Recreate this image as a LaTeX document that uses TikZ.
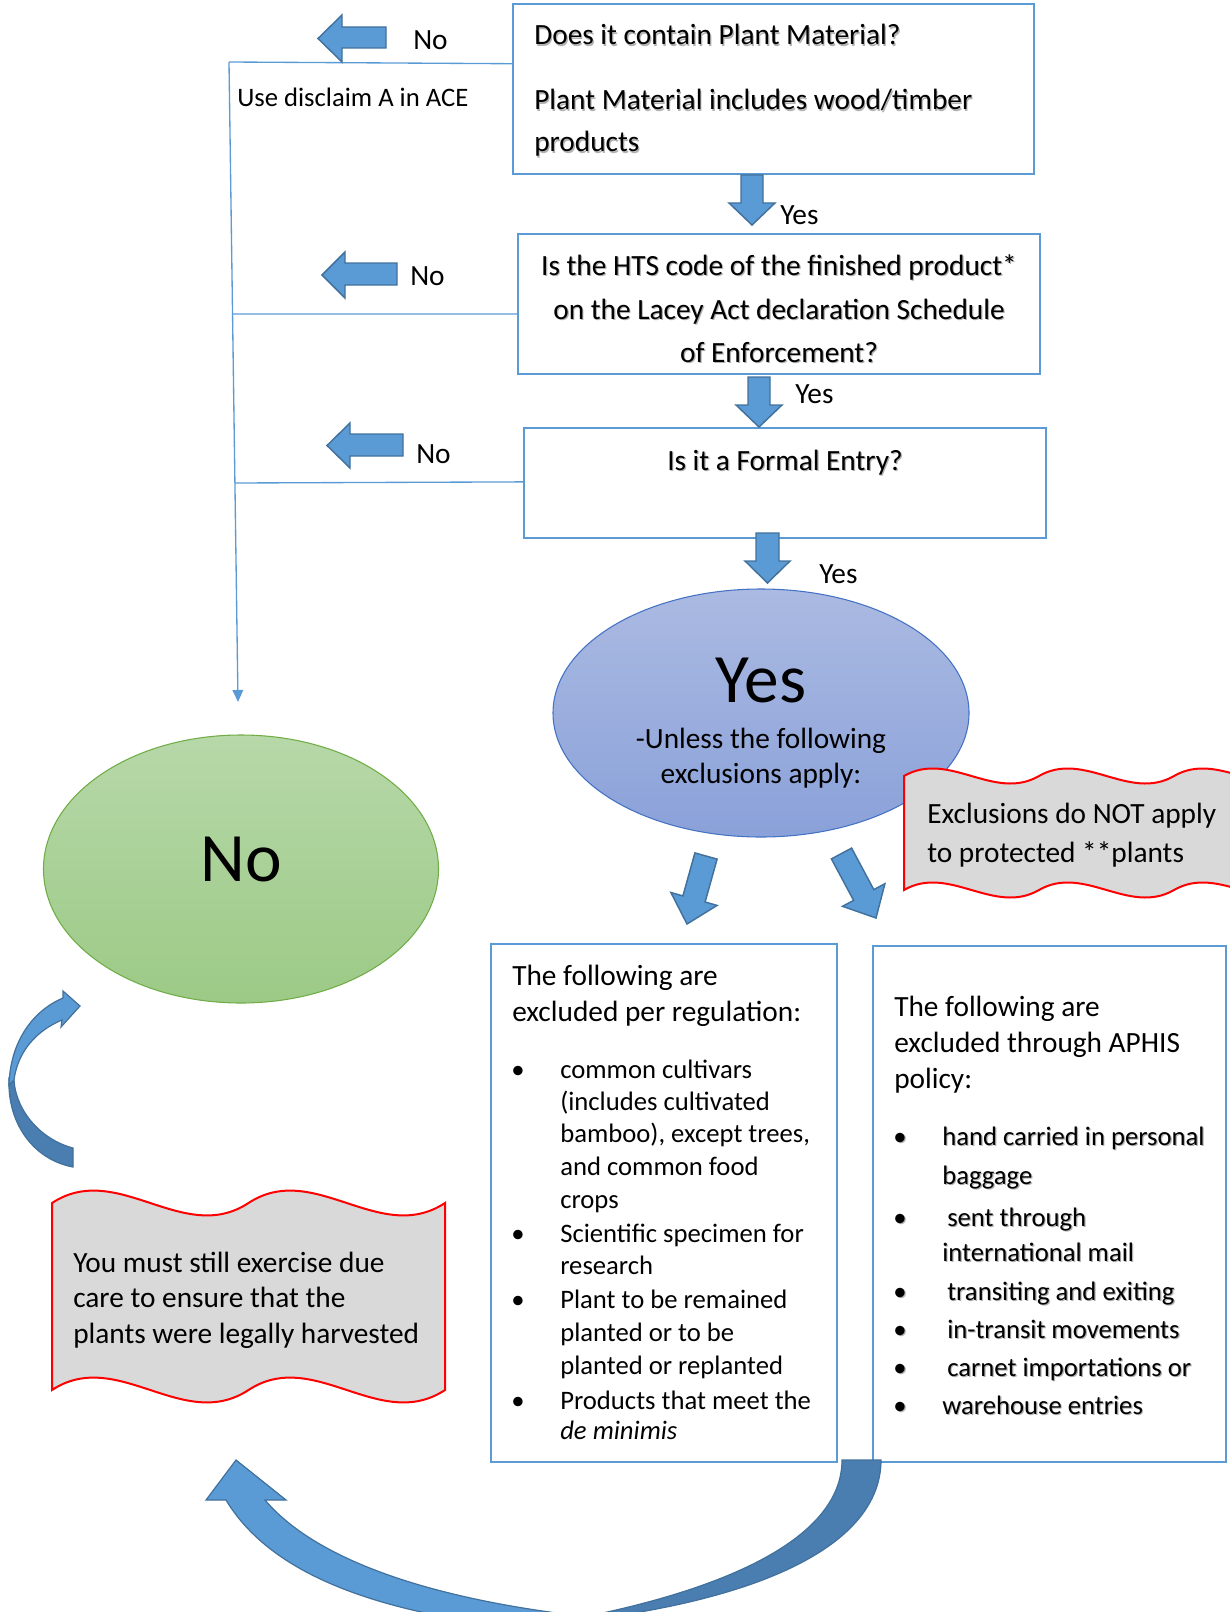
\documentclass[tikz,border=0pt]{standalone}
\usepackage{fontspec}
\setmainfont{Carlito}
\usetikzlibrary{arrows.meta,shapes.geometric,calc}
\definecolor{bl}{HTML}{5B9BD5}
\definecolor{bld}{HTML}{41719C}
\definecolor{bldark}{HTML}{4A7DB0}
\definecolor{yesT}{HTML}{ABBAE2}
\definecolor{yesB}{HTML}{8AA1D9}
\definecolor{yesE}{HTML}{4472C4}
\definecolor{noT}{HTML}{B7D8A9}
\definecolor{noB}{HTML}{9CCA86}
\definecolor{noE}{HTML}{70AD47}
\definecolor{wavefill}{HTML}{D9D9D9}
\definecolor{wavered}{HTML}{FF0000}
\tikzset{
 box/.style={draw=bl, line width=1.5pt, fill=white, inner sep=0pt},
 ln/.style={draw=bl, line width=1pt},
 barrow/.style={fill=bl, draw=bld, line width=1.1pt, line join=miter},
 carrow/.style={fill=bl, draw=bld, line width=0.9pt},
 carrowd/.style={fill=bldark, draw=bld, line width=0.9pt},
 wave/.style={fill=wavefill, draw=wavered, line width=1.5pt},
 txt/.style={font=\fontsize{22pt}{26pt}\selectfont, inner sep=0pt, anchor=base west},
 stxt/.style={font=\fontsize{20pt}{24pt}\selectfont, inner sep=0pt, anchor=base west},
 bigtxt/.style={font=\fontsize{52pt}{60pt}\selectfont, inner sep=0pt, anchor=base},
}
\newcommand{\shnode}[5][txt]{%
  \node[#1,anchor=#3,text=black!30,xshift=0.9pt,yshift=-0.9pt] (#2s) at (#4) {#5};
  \node[#1,anchor=#3] (#2) at (#4) {#5};}
\begin{document}
\begin{tikzpicture}[x=0.75pt,y=-0.75pt]
\useasboundingbox (0,0) rectangle (1230,1612);
\clip (0,0) rectangle (1230,1612);

% ---------- question boxes
\node[box, minimum width=390.75pt, minimum height=127.5pt] (b1) at (773.5,89) {};
\node[box, minimum width=391.5pt, minimum height=105pt] (b2) at (779,304) {};
\node[box, minimum width=391.5pt, minimum height=82.5pt] (b3) at (785,483) {};
\node[box, minimum width=259.5pt, minimum height=388.5pt] (b4) at (664,1203) {};
\node[box, minimum width=264.75pt, minimum height=387pt] (b5) at (1049.5,1204) {};

% ---------- ellipses
\node[ellipse, draw=yesE, line width=0.8pt, top color=yesT, bottom color=yesB,
      minimum width=312pt, minimum height=186pt, inner sep=0pt] (ey) at (761,713) {};
\node[ellipse, draw=noE, line width=0.8pt, top color=noT, bottom color=noB,
      minimum width=296.25pt, minimum height=201pt, inner sep=0pt] (en) at (241,869) {};

% ---------- "No" connector lines
\coordinate (j1) at (229,62);
\coordinate (j2) at (232.5,314);
\coordinate (j3) at (235,483);
\coordinate (jend) at (238,702);
\coordinate (w1) at ($(b1.north west)!0.353!(b1.south west)$);
\coordinate (w2) at ($(b2.north west)!0.571!(b2.south west)$);
\coordinate (w3) at ($(b3.north west)!0.49!(b3.south west)$);
\draw[ln] (w1) -- (j1);
\draw[ln] (w2) -- (j2);
\draw[ln] (w3) -- (j3);
\draw[ln, -{Triangle[length=9pt,width=8pt]}, bl] (j1) -- (jend);

% ---------- left block arrows
\draw[barrow] (386,27) -- (342,27) -- (342,15) -- (318,38.5) -- (342,62) -- (342,48) -- (386,48) -- cycle;
\draw[barrow] (397,263) -- (345,263) -- (345,252) -- (322,275) -- (345,298) -- (345,285) -- (397,285) -- cycle;
\draw[barrow] (403,434) -- (350,434) -- (350,423) -- (327,445.5) -- (350,468) -- (350,456) -- (403,456) -- cycle;

% ---------- down block arrows
\draw[barrow] (741,175) -- (763,175) -- (763,203) -- (775,203) -- (752,225) -- (729,203) -- (741,203) -- cycle;
\draw[barrow] (748,377) -- (770,377) -- (770,405) -- (782,405) -- (759,427) -- (736,405) -- (748,405) -- cycle;
\draw[barrow] (756,533) -- (779,533) -- (779,561) -- (790,561) -- (767.5,583) -- (745,561) -- (756,561) -- cycle;

% ---------- slanted arrows under the Yes ellipse
\draw[barrow] (694.9,852.9) -- (717.1,859.1) -- (705.1,902.0) -- (717.1,905.4) -- (687,924) -- (670.9,892.5) -- (682.9,895.9) -- cycle;
\draw[barrow] (831.4,858.9) -- (851.6,848.1) -- (873.8,889.6) -- (884.9,883.7) -- (876,918) -- (842.5,906.3) -- (853.6,900.4) -- cycle;

% ---------- wave callouts
\draw[wave] (904,776) .. controls (949,750) and (994,802) .. (1039,776)
  .. controls (1084,750) and (1129,802) .. (1174,776)
  .. controls (1219,750) and (1264,802) .. (1309,776) -- (1309,890)
  .. controls (1264,916) and (1219,864) .. (1174,890)
  .. controls (1129,916) and (1084,864) .. (1039,890)
  .. controls (994,916) and (949,864) .. (904,890) -- cycle;
\draw[wave] (52,1203) .. controls (117.5,1160) and (183,1246) .. (248.5,1203)
  .. controls (314,1160) and (379.5,1246) .. (445,1203) -- (445,1390)
  .. controls (379.5,1433) and (314,1347) .. (248.5,1390)
  .. controls (183,1433) and (117.5,1347) .. (52,1390) -- cycle;

% ---------- curved arrows
\draw[carrowd] (9,1078) .. controls (7,1125) and (35,1160) .. (73,1167) -- (73,1148)
  .. controls (42,1140) and (16,1112) .. (14,1080) -- cycle;
\draw[carrow] (63,991) -- (80,1006) -- (61,1027) -- (62,1020)
  .. controls (38,1030) and (18,1050) .. (14,1080) -- (9,1085)
  .. controls (10,1045) and (30,1012) .. (63,998) -- cycle;

\draw[carrowd] (842,1460) -- (881,1460) .. controls (881,1545) and (760,1605) .. (540,1625)
  .. controls (720,1595) and (842,1540) .. (842,1460) -- cycle;
\draw[carrow] (206,1500) -- (236,1460) -- (286,1500) -- (265,1500)
  .. controls (320,1565) and (450,1605) .. (620,1620) -- (560,1632)
  .. controls (420,1620) and (280,1590) .. (226,1500) -- cycle;

% ---------- texts
\shnode{t1a}{base west}{534,45}{Does it contain Plant Material?}
\shnode{t1b}{base west}{534,110}{Plant Material includes wood/timber}
\shnode{t1c}{base west}{534,152}{products}
\shnode{t2a}{base}{779,275}{Is the HTS code of the finished product*}
\shnode{t2b}{base}{779,319}{on the Lacey Act declaration Schedule}
\shnode{t2c}{base}{779,362}{of Enforcement?}
\shnode{t3a}{base}{785,470}{Is it a Formal Entry?}

\node[txt] (no1) at (413,50) {No};
\node[txt] (no2) at (410,285) {No};
\node[txt] (no3) at (416,463) {No};
\node[txt] (ye1) at (780,225) {Yes};
\node[txt] (ye2) at (795,403) {Yes};
\node[txt] (ye3) at (819,583) {Yes};
\node[stxt] (dis) at (237,107) {Use disclaim A in ACE};

\node[bigtxt] (bigyes) at (761,702) {Yes};
\node[txt,anchor=base] (un1) at (761,748) {-Unless the following};
\node[txt,anchor=base] (un2) at (761,783) {exclusions apply:};
\node[bigtxt] (bigno) at (241,881) {No};

\node[txt] (ex1) at (927,823) {Exclusions do NOT apply};
\node[txt] (ex2) at (927,862) {to protected **plants};

\node[txt] (dc1) at (73,1272) {You must still exercise due};
\node[txt] (dc2) at (73,1307) {care to ensure that the};
\node[txt] (dc3) at (73,1343) {plants were legally harvested};

% left list
\node[txt] (la) at (512,985) {The following are};
\node[txt] (lb) at (512,1021) {excluded per regulation:};
\foreach \y [count=\i] in {1078,1242,1308,1409}
  \node[stxt,anchor=base] (lbul\i) at (518,\y) {\textbullet};
\node[stxt] (l1) at (560,1078) {common cultivars};
\node[stxt] (l2) at (560,1110) {(includes cultivated};
\node[stxt] (l3) at (560,1142) {bamboo), except trees,};
\node[stxt] (l4) at (560,1175) {and common food};
\node[stxt] (l5) at (560,1208) {crops};
\node[stxt] (l6) at (560,1242) {Scientific specimen for};
\node[stxt] (l7) at (560,1274) {research};
\node[stxt] (l8) at (560,1308) {Plant to be remained};
\node[stxt] (l9) at (560,1341) {planted or to be};
\node[stxt] (l10) at (560,1374) {planted or replanted};
\node[stxt] (l11) at (560,1409) {Products that meet the};
\node[stxt] (l12) at (560,1439) {\textit{de minimis}};

% right list
\node[txt] (ra) at (894,1016) {The following are};
\node[txt] (rb) at (894,1052) {excluded through APHIS};
\node[txt] (rc) at (894,1088) {policy:};
\shnode[stxt]{rbul1}{base}{900,1145}{\textbullet}
\shnode[stxt]{rbul2}{base}{900,1226}{\textbullet}
\shnode[stxt]{rbul3}{base}{900,1300}{\textbullet}
\shnode[stxt]{rbul4}{base}{900,1338}{\textbullet}
\shnode[stxt]{rbul5}{base}{900,1376}{\textbullet}
\shnode[stxt]{rbul6}{base}{900,1414}{\textbullet}
\shnode[stxt]{r1}{base west}{942,1145}{hand carried in personal}
\shnode[stxt]{r2}{base west}{942,1184}{baggage}
\shnode[stxt]{r3}{base west}{947,1226}{sent through}
\shnode[stxt]{r4}{base west}{942,1261}{international mail}
\shnode[stxt]{r5}{base west}{947,1300}{transiting and exiting}
\shnode[stxt]{r6}{base west}{947,1338}{in-transit movements}
\shnode[stxt]{r7}{base west}{947,1376}{carnet importations or}
\shnode[stxt]{r8}{base west}{942,1414}{warehouse entries}
\end{tikzpicture}
\end{document}
